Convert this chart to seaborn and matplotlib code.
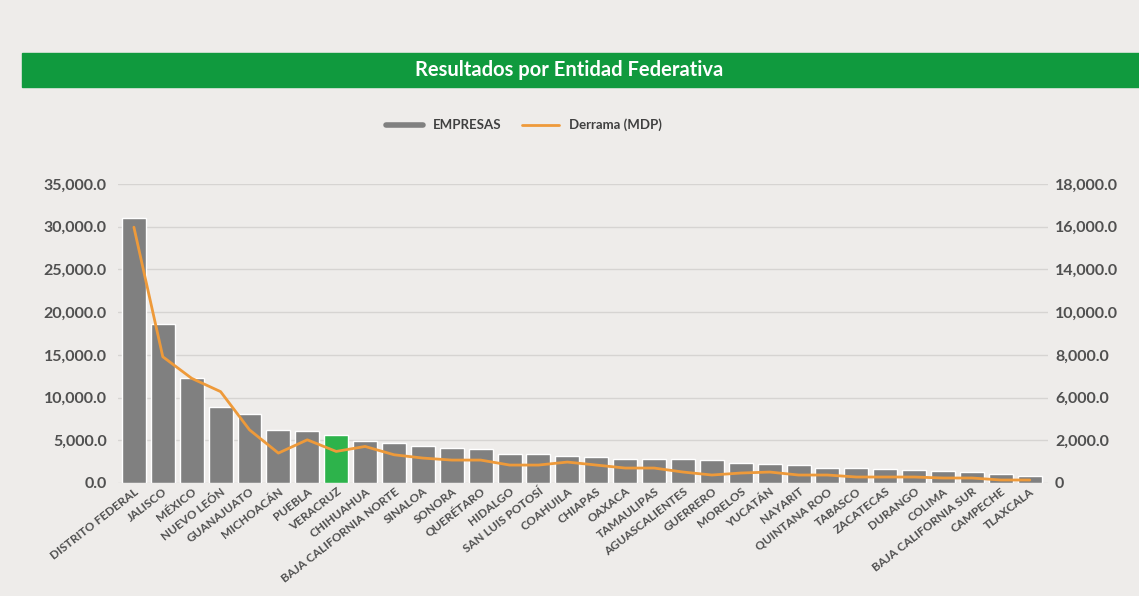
import matplotlib.pyplot as plt
import seaborn as sns
import pandas as pd
import numpy as np
from matplotlib.lines import Line2D
from matplotlib.patches import Rectangle

estados = ['DISTRITO FEDERAL', 'JALISCO', 'MÉXICO', 'NUEVO LEÓN', 'GUANAJUATO',
           'MICHOACÁN', 'PUEBLA', 'VERACRUZ', 'CHIHUAHUA', 'BAJA CALIFORNIA NORTE',
           'SINALOA', 'SONORA', 'QUERÉTARO', 'HIDALGO', 'SAN LUIS POTOSÍ',
           'COAHUILA', 'CHIAPAS', 'OAXACA', 'TAMAULIPAS', 'AGUASCALIENTES',
           'GUERRERO', 'MORELOS', 'YUCATÁN', 'NAYARIT', 'QUINTANA ROO',
           'TABASCO', 'ZACATECAS', 'DURANGO', 'COLIMA', 'BAJA CALIFORNIA SUR',
           'CAMPECHE', 'TLAXCALA']
empresas = [31000, 18600, 12300, 8900, 8100, 6200, 6100, 5600, 4900, 4700,
            4300, 4100, 4000, 3400, 3350, 3200, 3050, 2850, 2800, 2800,
            2700, 2300, 2200, 2100, 1800, 1750, 1600, 1500, 1400, 1300,
            1100, 800]
derrama = [15400, 7600, 6300, 5500, 3200, 1800, 2600, 1900, 2200, 1700,
           1500, 1380, 1380, 1080, 1080, 1260, 1080, 900, 900, 660,
           480, 600, 660, 480, 480, 360, 360, 360, 300, 300,
           180, 180]
ticks_emp = [0, 5000, 10000, 15000, 20000, 25000, 30000, 35000]
ticks_der = ['0', '2,000.0', '6,000.0', '8,000.0', '10,000.0',
             '14,000.0', '16,000.0', '18,000.0']

df = pd.DataFrame({'estado': estados, 'empresas': empresas, 'derrama': derrama})
colores = ['#2DB34B' if e == 'VERACRUZ' else '#808080' for e in estados]

fondo = '#EEECEA'
gris_txt = '#505050'
naranja = '#EE9A3A'

sns.set_theme(style='white')
plt.rcParams['font.family'] = ['Lato', 'DejaVu Sans']

fig = plt.figure(figsize=(11.39, 5.96), dpi=100, facecolor=fondo)

# franja verde del titulo
fig.patches.append(Rectangle((22 / 1139, 1 - 87 / 596), 1 - 22 / 1139, 34 / 596,
                             transform=fig.transFigure, color='#109A3E', zorder=0))
fig.text(0.5, 1 - 70 / 596, 'Resultados por Entidad Federativa', color='white',
         fontsize=14.5, fontweight='bold', ha='center', va='center')

ax = fig.add_axes([0.1036, 0.1896, 0.8165, 0.5017])
ax.set_facecolor(fondo)
sns.barplot(data=df, x='estado', y='empresas', hue='estado', palette=colores,
            legend=False, width=0.83, saturation=1, ax=ax)
ax.set_ylim(0, 35000)
ax.set_yticks(ticks_emp)
ax.set_yticklabels([f'{v:,.1f}' for v in ticks_emp], fontsize=11.5,
                   fontweight='bold', color=gris_txt)
ax.set_xlim(-0.55, 31.63)
ax.set_xlabel('')
ax.set_ylabel('')
ax.tick_params(axis='x', length=0, pad=2)
ax.tick_params(axis='y', length=0, pad=8)
plt.setp(ax.get_xticklabels(), rotation=38, ha='right', rotation_mode='anchor',
         fontsize=8.5, fontweight='bold', color=gris_txt)
ax.yaxis.grid(True, color='#D6D4D2', lw=1)
ax.set_axisbelow(True)
for s in ax.spines.values():
    s.set_visible(False)

ax2 = ax.twinx()
sns.lineplot(x=df.index, y=df['derrama'], color=naranja, lw=2, ax=ax2)
ax2.set_ylim(0, 18000)
ax2.set_yticks(np.linspace(0, 18000, 8))
ax2.set_yticklabels(ticks_der, fontsize=11.5, fontweight='bold', color=gris_txt)
ax2.set_ylabel('')
ax2.tick_params(axis='y', length=0, pad=5)
ax2.grid(False)
for s in ax2.spines.values():
    s.set_visible(False)

handles = [Line2D([], [], color='#808080', lw=4), Line2D([], [], color=naranja, lw=2)]
fig.legend(handles, ['EMPRESAS', 'Derrama (MDP)'], loc='center',
           bbox_to_anchor=(0.46, 1 - 125 / 596), ncol=2, frameon=False,
           handlelength=2.8, columnspacing=1.5,
           prop={'size': 9.5, 'weight': 'bold'}, labelcolor='#404040')

fig.savefig('out.png', dpi=100, facecolor=fondo)
